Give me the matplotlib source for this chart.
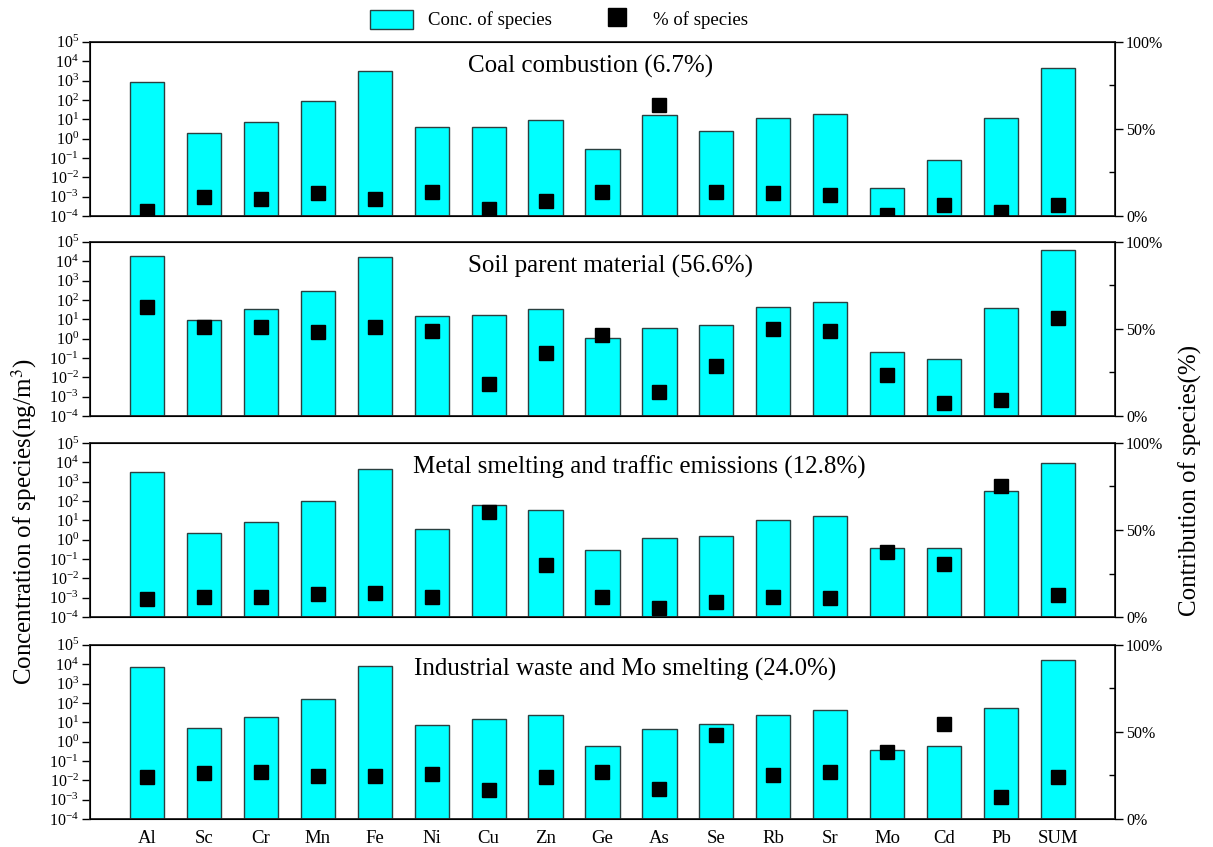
import numpy as np
import matplotlib
matplotlib.use('Agg')
import matplotlib.pyplot as plt
from matplotlib.patches import Patch
from matplotlib.lines import Line2D
from matplotlib.ticker import LogFormatterSciNotation, FixedLocator

plt.rcParams['font.family'] = ['Liberation Serif', 'DejaVu Serif']
plt.rcParams['mathtext.fontset'] = 'stix'
plt.rcParams['axes.unicode_minus'] = False

# 元素
species = ['Al', 'Sc', 'Cr', 'Mn', 'Fe', 'Ni', 'Cu', 'Zn', 'Ge', 'As',
           'Se', 'Rb', 'Sr', 'Mo', 'Cd', 'Pb', 'SUM']

# 각 요인별 농도 (ng/m3)
conc_coal = [800, 2.0, 7.5, 92, 3200, 4.0, 4.2, 9.1, 0.30, 16,
             2.4, 11.7, 18, 0.0028, 0.076, 11.7, 4400]
conc_soil = [19000, 9.1, 35, 300, 16000, 14, 16, 35, 1.05, 3.5,
             4.9, 44, 81, 0.2, 0.085, 39, 37000]
conc_metal = [3200, 2.1, 8.5, 95, 4700, 3.4, 60, 33, 0.28, 1.2,
              1.5, 10.7, 16.6, 0.35, 0.38, 330, 8900]
conc_indus = [7000, 4.9, 19.5, 165, 8000, 7.6, 15.5, 23.5, 0.62, 4.3,
              8.5, 23.5, 43, 0.36, 0.62, 52, 16000]

# 각 요인별 기여율 (%)
pct_coal = [3, 11.1, 9.8, 13, 9.6, 13.8, 4.2, 8.8, 14, 63.8,
            13.6, 13, 11.9, 0.8, 6.3, 2.5, 6.3]
pct_soil = [62.8, 51, 51.3, 48.3, 51.3, 48.7, 18.2, 36.4, 46.4, 14,
            28.7, 49.8, 49, 23.6, 7.3, 9.2, 56.1]
pct_metal = [10.3, 11.3, 11.3, 13.2, 14, 11.5, 60.3, 30, 11.5, 5,
             8.8, 11.3, 10.9, 37.2, 30.6, 75.1, 12.8]
pct_indus = [24, 26.2, 26.7, 24.8, 24.8, 25.6, 16.6, 24, 27.1, 17,
             48.1, 25.2, 27.1, 38.7, 54.8, 12.8, 23.9]

titles = ['Coal combustion (6.7%)', 'Soil parent material (56.6%)',
          'Metal smelting and traffic emissions (12.8%)',
          'Industrial waste and Mo smelting (24.0%)']
conc_all = [conc_coal, conc_soil, conc_metal, conc_indus]
pct_all = [pct_coal, pct_soil, pct_metal, pct_indus]

title_x = [0.488, 0.508, 0.536, 0.522]
bottoms = [0.745, 0.5089, 0.2715, 0.0331]

bar_color = '#00FFFF'
edge_color = '#2b4040'
ymin, ymax = 1e-4, 1e5

fig = plt.figure(figsize=(12.13, 8.47), dpi=100)
x = np.arange(len(species))

for i in range(4):
    ax = fig.add_axes([0.0742, bottoms[i], 0.845, 0.2056])
    conc = np.array(conc_all[i])
    ax.bar(x, conc - ymin, bottom=ymin, width=0.6, color=bar_color,
           edgecolor=edge_color, linewidth=1.0)
    ax.set_yscale('log')
    ax.set_ylim(ymin, ymax)
    ax.set_xlim(-1, 17)
    ax.yaxis.set_major_locator(FixedLocator([10.0 ** k for k in range(-4, 6)]))
    ax.yaxis.set_major_formatter(LogFormatterSciNotation())
    ax.yaxis.set_minor_locator(FixedLocator([]))
    ax.tick_params(axis='y', which='major', direction='out', length=6,
                   width=1, labelsize=11.5, pad=2)
    ax.set_xticks(x)
    if i == 3:
        ax.set_xticklabels(species, fontsize=13.5)
        ax.tick_params(axis='x', length=0, pad=8)
    else:
        ax.set_xticklabels([])
        ax.tick_params(axis='x', length=0)
    for sp in ax.spines.values():
        sp.set_linewidth(1.3)
        sp.set_color('#222222')
    ax.text(title_x[i], 0.86, titles[i], transform=ax.transAxes,
            ha='center', va='center', fontsize=18)

    # 기여율 (오른쪽 축)
    ax2 = ax.twinx()
    ax2.plot(x, pct_all[i], 's', color='black', markersize=9.5)
    ax2.set_ylim(0, 100)
    ax2.set_yticks([0, 50, 100])
    ax2.set_yticklabels(['0%', '50%', '100%'])
    ax2.set_yticks([25, 75], minor=True)
    ax2.tick_params(axis='y', which='major', direction='out', length=6,
                    width=1, labelsize=11.5, pad=2)
    ax2.tick_params(axis='y', which='minor', direction='in', length=4, width=1)

fig.text(0.02, 0.384, 'Concentration of species(ng/m$^3$)', rotation=90,
         ha='center', va='center', fontsize=18)
fig.text(0.981, 0.433, 'Contribution of species(%)', rotation=90,
         ha='center', va='center', fontsize=18)

handles = [Patch(facecolor=bar_color, edgecolor=edge_color, linewidth=1.0),
           Line2D([], [], marker='s', linestyle='none', color='black', markersize=13)]
fig.legend(handles, ['Conc. of species', '% of species'], loc='center',
           bbox_to_anchor=(0.461, 0.977), ncol=2, frameon=False, fontsize=13.5,
           columnspacing=2.3, handlelength=2.3, handleheight=1.2)

plt.savefig('out.png', dpi=100)
